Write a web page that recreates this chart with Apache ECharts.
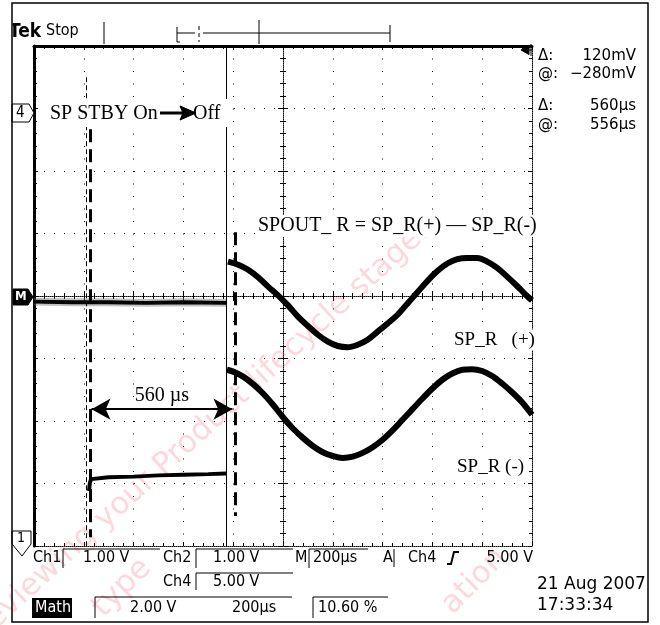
<!DOCTYPE html>
<html><head><meta charset="utf-8">
<script src="https://cdn.jsdelivr.net/npm/echarts@6/dist/echarts.min.js"></script>
<style>html,body{margin:0;padding:0;background:#fff}#c{width:660px;height:625px}</style>
</head><body><div id="c"></div>
<script>
// ---------------- data (time in µs, level in screen divisions) ----------------
const timeRange = [0, 2000];
const timeStep = 200;
const divRange = [-4, 4];
const divStep = 1;

const mathFlat = [[0,-0.09],[150,-0.10],[300,-0.10],[450,-0.11],[600,-0.10],[771,-0.11]];
const mathSine = [[779,0.55],[820,0.50],[860,0.42],[900,0.30],[940,0.15],[980,0.01],[1020,-0.15],
  [1060,-0.33],[1100,-0.48],[1140,-0.62],[1180,-0.73],[1220,-0.80],[1260,-0.82],[1300,-0.78],
  [1340,-0.70],[1380,-0.57],[1420,-0.44],[1460,-0.30],[1500,-0.12],[1540,0.06],[1580,0.24],
  [1620,0.40],[1660,0.52],[1700,0.59],[1740,0.61],[1780,0.61],[1820,0.55],[1860,0.45],
  [1900,0.31],[1940,0.16],[1980,0.00],[2000,-0.07]];
const ch1Flat = [[221,-3.12],[224,-3.0],[229,-2.93],[300,-2.90],[400,-2.89],[500,-2.87],[600,-2.86],[700,-2.85],[771,-2.84]];
const ch1Sine = [[775,-1.18],[800,-1.21],[840,-1.29],[880,-1.41],[920,-1.56],[960,-1.74],[1000,-1.94],
  [1040,-2.12],[1080,-2.27],[1120,-2.40],[1160,-2.50],[1200,-2.56],[1240,-2.59],[1280,-2.57],
  [1320,-2.51],[1360,-2.42],[1400,-2.30],[1440,-2.15],[1480,-1.98],[1520,-1.81],[1560,-1.64],
  [1600,-1.48],[1640,-1.34],[1680,-1.24],[1720,-1.18],[1760,-1.17],[1800,-1.20],[1840,-1.28],
  [1880,-1.40],[1920,-1.54],[1960,-1.70],[2000,-1.90]];

const cursorTimes = [211, 771];
const cursorSpans = [[3.5,-4],[4,-4]];
const annotTimes = [225, 807];
const annotSpans = [[2.67,-3.86],[1.02,-3.52]];
const arrowSpan = [231, 797];
const arrowLevel = -1.81;
const arrowLabel = '560 µs';

const readoutLabels = ['Δ:', '@:', 'Δ:', '@:'];
const readoutValues = ['120mV', '−280mV', '560µs', '556µs'];
const noteTexts = ['SP STBY On', 'Off', 'SPOUT_ R = SP_R(+) — SP_R(-)', 'SP_R   (+)', 'SP_R (-)'];
const statusRow1 = ['Ch1', '1.00 V', 'Ch2', '1.00 V', 'M', '200µs', 'A', 'Ch4', '5.00 V'];
const statusRow2 = ['Ch4', '5.00 V'];
const statusRow3 = ['Math', '2.00 V', '200µs', '10.60 %'];
const dateTexts = ['21 Aug 2007', '17:33:34'];

// ---------------- styles ----------------
const scopeFont = '"DejaVu Sans Condensed","DejaVu Sans",sans-serif';
const serif = '"Liberation Serif","Times New Roman",serif';
const K = '#000';

function T(x, y, text, font, st, extra) {
  return Object.assign({type:'text', x:x, y:y, z:100,
    style: Object.assign({text:text, font:font, fill:K, align:'left', textAlign:'left',
      verticalAlign:'middle', textVerticalAlign:'middle'}, st || {})}, extra || {});
}
function L(points, st, z) {
  return {type:'polyline', z:z || 100, shape:{points:points}, style:Object.assign({fill:null, stroke:K, lineWidth:1}, st || {})};
}
function PG(points, st, z) {
  return {type:'polygon', z:z || 100, shape:{points:points}, style:Object.assign({fill:'#fff', stroke:K, lineWidth:1}, st || {})};
}

const commonX = {type:'value', min:timeRange[0], max:timeRange[1], interval:timeStep,
  axisLabel:{show:false}, splitLine:{show:false}};
const commonY = {type:'value', min:divRange[0], max:divRange[1], interval:divStep,
  axisLabel:{show:false}, splitLine:{show:false}};
const tk = (inside, len) => ({show:true, inside:inside, length:len, lineStyle:{color:K, width:1}});
const mtk = (len) => ({show:true, splitNumber:5, length:len, lineStyle:{color:K, width:1}});

const xAxes = [
  Object.assign({}, commonX, {position:'bottom', axisLine:{onZero:false, lineStyle:{color:K, width:1, type:[1,1]}},
    axisTick:tk(true,4), minorTick:mtk(3),
    splitLine:{show:true, lineStyle:{color:K, width:1, type:[1,11.5]}}}),
  Object.assign({}, commonX, {position:'top', axisLine:{onZero:false, lineStyle:{color:K, width:3}},
    axisTick:tk(true,4), minorTick:mtk(3)}),
  Object.assign({}, commonX, {position:'bottom', offset:-250, axisLine:{onZero:false, lineStyle:{color:K, width:1, type:[1,1]}},
    axisTick:tk(true,5), minorTick:mtk(3)}),
  Object.assign({}, commonX, {position:'bottom', offset:-250, axisLine:{onZero:false, show:false},
    axisTick:tk(false,5), minorTick:mtk(3)})
];
const yAxes = [
  Object.assign({}, commonY, {position:'left', axisLine:{onZero:false, lineStyle:{color:K, width:3}},
    axisTick:tk(true,4), minorTick:mtk(3),
    splitLine:{show:true, lineStyle:{color:K, width:1, type:[1,9]}}}),
  Object.assign({}, commonY, {position:'right', axisLine:{onZero:false, lineStyle:{color:K, width:1, type:[1,1]}},
    axisTick:tk(true,4), minorTick:mtk(3)}),
  Object.assign({}, commonY, {position:'left', offset:-249, axisLine:{onZero:false, lineStyle:{color:K, width:1, type:[1,1]}},
    axisTick:tk(true,5), minorTick:mtk(3)}),
  Object.assign({}, commonY, {position:'left', offset:-249, axisLine:{onZero:false, show:false},
    axisTick:tk(false,5), minorTick:mtk(3)})
];

const vline = (t, span, style) => [{coord:[t, span[0]], lineStyle:style}, {coord:[t, span[1]]}];
const markLines = [
  vline(cursorTimes[0], cursorSpans[0], {color:K, width:1, type:[5,3]}),
  vline(cursorTimes[1], cursorSpans[1], {color:K, width:1, type:'solid'}),
  vline(annotTimes[0], annotSpans[0], {color:K, width:3, type:[13,7]}),
  vline(annotTimes[1], annotSpans[1], {color:K, width:3, type:[13,7]})
];

// ---------------- graphic (frame, status text, annotations) ----------------
const g = [];
// watermark
const wm = 'rgba(238,60,80,0.2)';
const wmFont = '31px "DejaVu Sans",sans-serif';
g.push(T(425, 228, 'Reviewing your Product lifecycle stage.', wmFont, {fill:wm, align:'right', textAlign:'right'}, {rotation:Math.PI*0.235, z:1}));
g.push(T(122, 588, 'type', wmFont, {fill:wm, align:'center', textAlign:'center'}, {rotation:Math.PI*0.25, z:1}));
g.push(T(478, 578, 'ation.', wmFont, {fill:wm, align:'center', textAlign:'center'}, {rotation:Math.PI*0.25, z:1}));

// top line
g.push(T(9, 32, 'Tek', 'bold 19px ' + scopeFont));
g.push({type:'rect', z:101, shape:{x:0, y:10, width:12.5, height:40}, style:{fill:'#fff'}});
g.push(T(46, 31, 'Stop', '16px ' + scopeFont));
g.push(L([[104,22],[104,44]]));
g.push(L([[180,42],[177,42],[177,27]]));
g.push(L([[177,33],[195,33]]));
g.push(L([[203,33],[390,33]]));
g.push(L([[390,25],[390,42]]));
g.push(L([[259,20],[259,44]]));
g.push(L([[199,26],[199,42]], {lineDash:[4,3]}));
// outer frame
g.push({type:'rect', z:102, shape:{x:12, y:3, width:636, height:619}, style:{fill:null, stroke:K, lineWidth:1.5}});

// trigger level arrow
g.push(PG([[521,50],[529,45.5],[529,54.5]], {fill:K}));
g.push(L([[529,50],[533,50]]));
g.push(L([[531,44],[531,56]]));

// readouts
const roY = [56, 74, 106, 125];
readoutLabels.forEach((s,i) => g.push(T(538, roY[i], s, '15px "DejaVu Sans",sans-serif')));
readoutValues.forEach((s,i) => g.push(T(636, roY[i], s, '15px "DejaVu Sans",sans-serif', {align:'right', textAlign:'right'})));

// channel markers
g.push(PG([[12,104],[29,104],[34,113],[29,122],[12,122]]));
g.push(T(16, 113, '4', '15px ' + scopeFont));
g.push(PG([[13,289],[28,289],[33,297],[28,305],[13,305]], {fill:K}));
g.push(T(15, 297, 'M', 'bold 13px ' + scopeFont, {fill:'#fff'}));
g.push(PG([[12,544],[12,531],[31,531],[31,544],[22,556]]));
g.push(T(17, 538, '1', '14px ' + scopeFont));

// status rows
const f16 = '16px ' + scopeFont;
const r1x = [33, 83, 163, 213, 295, 313, 383, 408];
statusRow1.slice(0,8).forEach((s,i) => g.push(T(r1x[i], 558, s, f16)));
g.push(T(533, 558, statusRow1[8], f16, {align:'right', textAlign:'right'}));
g.push(L([[63,568],[63,549],[160,549]]));
g.push(L([[196,568],[196,549],[293,549]]));
g.push(L([[309,568],[309,549],[368,549]]));
g.push(L([[394,567],[394,549]]));
g.push(L([[447,564],[451,564],[454,552],[459,552]], {lineWidth:2}));
g.push(T(163, 582, statusRow2[0], f16));
g.push(T(213, 582, statusRow2[1], f16));
g.push(L([[196,590],[196,573],[293,573]]));
g.push({type:'rect', z:100, shape:{x:32, y:598, width:40, height:20}, style:{fill:K}});
g.push(T(35, 608, statusRow3[0], f16, {fill:'#fff'}));
g.push(T(130, 608, statusRow3[1], f16));
g.push(T(232, 608, statusRow3[2], f16));
g.push(T(318, 608, statusRow3[3], f16));
g.push(L([[95,618],[95,597],[292,597]]));
g.push(L([[313,618],[313,597],[388,597]]));
g.push(T(537, 585, dateTexts[0], '17px "DejaVu Sans",sans-serif'));
g.push(T(537, 606, dateTexts[1], '17px "DejaVu Sans",sans-serif'));

// annotations
g.push({type:'rect', z:99, shape:{x:44, y:99, width:183, height:28}, style:{fill:'#fff'}});
g.push(T(50, 114, noteTexts[0], '20px ' + serif));
g.push(L([[160,113],[186,113]], {lineWidth:3}));
g.push(PG([[196,113],[180,106],[183,113],[180,120]], {fill:K, stroke:K}));
g.push(T(193, 114, noteTexts[1], '20px ' + serif));
g.push(T(257, 226, noteTexts[2], '20px ' + serif, {backgroundColor:'#fff', padding:[1,1]}));
g.push(T(453, 340, noteTexts[3], '19px ' + serif, {backgroundColor:'#fff', padding:[1,1]}));
g.push(T(456, 467, noteTexts[4], '19px ' + serif, {backgroundColor:'#fff', padding:[1,1]}));

// ---------------- chart ----------------
const chart = echarts.init(document.getElementById('c'));
chart.setOption({
  animation:false,
  backgroundColor:'#fff',
  grid:{left:34, top:46, width:498, height:500, containLabel:false},
  xAxis:xAxes,
  yAxis:yAxes,
  series:[
    {type:'line', data:mathFlat, symbol:'none', z:3, lineStyle:{color:'#777', width:8, opacity:0.45}},
    {type:'line', data:mathFlat, symbol:'none', z:4, lineStyle:{color:K, width:4}},
    {type:'line', data:mathSine, symbol:'none', smooth:0.35, z:4, lineStyle:{color:K, width:6}},
    {type:'line', data:ch1Flat, symbol:'none', z:4, lineStyle:{color:K, width:4}},
    {type:'line', data:ch1Sine, symbol:'none', smooth:0.35, z:4, lineStyle:{color:K, width:6},
      markLine:{silent:true, symbol:['none','none'], label:{show:false}, data:markLines}},
    {type:'line', data:[], symbol:'none',
      markLine:{silent:true, symbol:['arrow','arrow'], symbolSize:[16,19],
        lineStyle:{color:K, width:2, type:'solid'},
        label:{show:true, position:'insideMiddleTop', distance:3, formatter:arrowLabel,
          color:K, fontFamily:'Liberation Serif', fontSize:20},
        data:[[{coord:[arrowSpan[0], arrowLevel]}, {coord:[arrowSpan[1], arrowLevel]}]]}}
  ],
  graphic:g
});
</script></body></html>
